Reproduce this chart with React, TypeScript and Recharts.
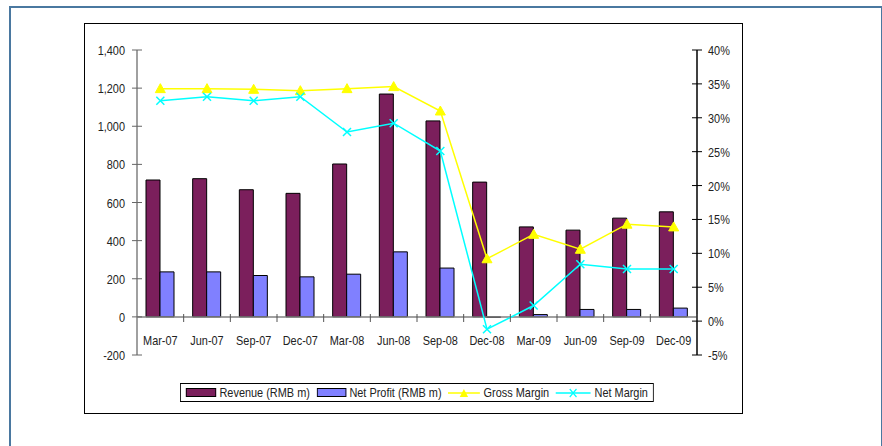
import React from 'react';
import {
    ComposedChart,
    Bar,
    Line,
    XAxis,
    YAxis,
    ReferenceLine,
    Legend,
} from 'recharts';

// Quarterly figures
const quarters = ['Mar-07', 'Jun-07', 'Sep-07', 'Dec-07', 'Mar-08', 'Jun-08', 'Sep-08', 'Dec-08', 'Mar-09', 'Jun-09', 'Sep-09', 'Dec-09'];
const revenue = [718, 725, 667, 648, 802, 1169, 1028, 707, 472, 455, 518, 551];
const netProfit = [236, 236, 217, 210, 224, 341, 256, -3, 12, 39, 39, 46];
const grossMargin = [34.3, 34.3, 34.2, 34.0, 34.3, 34.6, 31.0, 9.2, 12.8, 10.6, 14.3, 13.9];
const netMargin = [32.5, 33.1, 32.5, 33.1, 27.9, 29.2, 25.1, -1.2, 2.3, 8.4, 7.7, 7.7];

const leftTicks = [-200, 0, 200, 400, 600, 800, 1000, 1200, 1400];
const rightTicks = [-5, 0, 5, 10, 15, 20, 25, 30, 35, 40];

const data = quarters.map((label, i) => ({
    label,
    revenue: revenue[i],
    netProfit: netProfit[i],
    grossMargin: grossMargin[i],
    netMargin: netMargin[i],
}));

const FONT = '"Liberation Sans", Arial, sans-serif';
const NARROW = 0.84; // the original uses a condensed Arial look
const REVENUE_COLOR = '#7b1f5c';
const PROFIT_COLOR = '#8080ff';
const GROSS_COLOR = '#ffff00';
const NET_COLOR = '#00ffff';

// distance from the bottom of the plot up to the left axis zero line
const ZERO_GAP = 38;

const NarrowText = ({ x, y, anchor, children }: { x: number; y: number; anchor: 'start' | 'middle' | 'end'; children: React.ReactNode }) => (
    <text
        transform={`translate(${x},${y}) scale(${NARROW},1)`}
        textAnchor={anchor}
        fontSize={13}
        fontFamily={FONT}
        fill="#222"
    >
        {children}
    </text>
);

const CategoryTick = (props: any) => {
    const { x, y, payload, index } = props;
    const half = payload?.offset ?? 0;
    const zeroY = y - ZERO_GAP;
    return (
        <g>
            {half > 0 && index > 0 && (
                <line x1={x - half} x2={x - half} y1={zeroY - 3} y2={zeroY + 5} stroke="#555" strokeWidth={1} />
            )}
            {half > 0 && index === quarters.length - 1 && (
                <line x1={x + half} x2={x + half} y1={zeroY - 3} y2={zeroY + 5} stroke="#555" strokeWidth={1} />
            )}
            <NarrowText x={x} y={y - 10} anchor="middle">{payload.value}</NarrowText>
        </g>
    );
};

const LeftTick = (props: any) => {
    const { x, y, payload } = props;
    return (
        <g>
            <line x1={x - 5} x2={x + 5} y1={y} y2={y} stroke="#666" strokeWidth={1} />
            <NarrowText x={x - 12} y={y + 5} anchor="end">{payload.value.toLocaleString('en-US')}</NarrowText>
        </g>
    );
};

const RightTick = (props: any) => {
    const { x, y, payload } = props;
    return (
        <g>
            <line x1={x - 5} x2={x + 5} y1={y} y2={y} stroke="#000" strokeWidth={1} />
            <NarrowText x={x + 11} y={y + 5} anchor="start">{payload.value}%</NarrowText>
        </g>
    );
};

const TriangleDot = (props: any) => {
    const { cx, cy, index } = props;
    if (cx == null || cy == null) return null;
    return <path key={`tri-${index}`} d={`M${cx},${cy - 5} L${cx + 5},${cy + 4} L${cx - 5},${cy + 4} Z`} fill={GROSS_COLOR} stroke={GROSS_COLOR} />;
};

const CrossDot = (props: any) => {
    const { cx, cy, index } = props;
    if (cx == null || cy == null) return null;
    return (
        <path
            key={`x-${index}`}
            d={`M${cx - 4},${cy - 4} L${cx + 4},${cy + 4} M${cx - 4},${cy + 4} L${cx + 4},${cy - 4}`}
            stroke={NET_COLOR}
            strokeWidth={1.5}
            fill="none"
        />
    );
};

const LegendBox = () => {
    const swatch = (color: string, w: number) => (
        <span style={{ display: 'inline-block', width: w, height: 7, background: color, border: '1px solid #000', marginRight: 4 }} />
    );
    const lineSwatch = (color: string, w: number, marker: React.ReactNode) => (
        <svg width={w} height={10} style={{ marginRight: 4 }}>
            <line x1={0} x2={w} y1={5} y2={5} stroke={color} strokeWidth={1.5} />
            {marker}
        </svg>
    );
    const item = { display: 'flex', alignItems: 'center', marginRight: 8 } as const;
    const mid = (w: number) => w / 2;
    return (
        <div
            style={{
                display: 'flex',
                alignItems: 'center',
                border: '1px solid #000',
                height: 17,
                padding: '0 6px',
                fontFamily: FONT,
                fontSize: 13,
                color: '#222',
                background: '#fff',
                whiteSpace: 'nowrap',
                transform: `scaleX(${NARROW})`,
                transformOrigin: 'left top',
            }}
        >
            <span style={item}>{swatch(REVENUE_COLOR, 34)}Revenue (RMB m)</span>
            <span style={item}>{swatch(PROFIT_COLOR, 33)}Net Profit (RMB m)</span>
            <span style={item}>
                {lineSwatch(GROSS_COLOR, 38, (
                    <path d={`M${mid(38)},1 L${mid(38) + 5},9 L${mid(38) - 5},9 Z`} fill={GROSS_COLOR} />
                ))}
                Gross Margin
            </span>
            <span style={{ ...item, marginRight: 0 }}>
                {lineSwatch(NET_COLOR, 42, (
                    <path
                        d={`M${mid(42) - 4},1 L${mid(42) + 4},9 M${mid(42) - 4},9 L${mid(42) + 4},1`}
                        stroke={NET_COLOR}
                        strokeWidth={1.5}
                    />
                ))}
                Net Margin
            </span>
        </div>
    );
};

export default function App() {
    return (
        <div style={{ position: 'absolute', left: 0, top: 0, width: 882, height: 446, background: '#fff', overflow: 'hidden' }}>
            {/* outer frame */}
            <div style={{ position: 'absolute', left: 9, top: 6, width: 870, height: 460, border: '2px solid #4a78a0' }} />
            {/* chart area frame */}
            <div style={{ position: 'absolute', left: 84, top: 23, width: 657, height: 389, border: '1px solid #000' }} />
            <div style={{ position: 'absolute', left: 0, top: 0 }}>
                <ComposedChart
                    width={882}
                    height={446}
                    data={data}
                    margin={{ top: 50, right: 125, bottom: 61, left: 77 }}
                    barGap={0}
                >
                    <XAxis
                        dataKey="label"
                        xAxisId="x"
                        interval={0}
                        axisLine={false}
                        tickLine={false}
                        tickSize={0}
                        tickMargin={0}
                        height={30}
                        tick={<CategoryTick />}
                    />
                    <YAxis
                        yAxisId="left"
                        orientation="left"
                        width={60}
                        domain={[-200, 1400]}
                        ticks={leftTicks}
                        interval={0}
                        axisLine={{ stroke: '#808080', strokeWidth: 1.5 }}
                        tickLine={false}
                        tickSize={0}
                        tickMargin={0}
                        tick={<LeftTick />}
                    />
                    <YAxis
                        yAxisId="right"
                        orientation="right"
                        width={60}
                        domain={[-5, 40]}
                        ticks={rightTicks}
                        interval={0}
                        axisLine={{ stroke: '#000', strokeWidth: 1.5 }}
                        tickLine={false}
                        tickSize={0}
                        tickMargin={0}
                        tick={<RightTick />}
                    />
                    <ReferenceLine yAxisId="left" xAxisId="x" y={0} stroke="#808080" strokeWidth={1.5} />
                    <Bar
                        dataKey="revenue"
                        name="Revenue (RMB m)"
                        xAxisId="x"
                        yAxisId="left"
                        fill={REVENUE_COLOR}
                        stroke="#000"
                        strokeWidth={1}
                        barSize={14}
                        isAnimationActive={false}
                    />
                    <Bar
                        dataKey="netProfit"
                        name="Net Profit (RMB m)"
                        xAxisId="x"
                        yAxisId="left"
                        fill={PROFIT_COLOR}
                        stroke="#000"
                        strokeWidth={1}
                        barSize={14}
                        isAnimationActive={false}
                    />
                    <Line
                        type="linear"
                        dataKey="grossMargin"
                        name="Gross Margin"
                        xAxisId="x"
                        yAxisId="right"
                        stroke={GROSS_COLOR}
                        strokeWidth={1.5}
                        dot={<TriangleDot />}
                        activeDot={false}
                        isAnimationActive={false}
                    />
                    <Line
                        type="linear"
                        dataKey="netMargin"
                        name="Net Margin"
                        xAxisId="x"
                        yAxisId="right"
                        stroke={NET_COLOR}
                        strokeWidth={1.5}
                        dot={<CrossDot />}
                        activeDot={false}
                        isAnimationActive={false}
                    />
                    <Legend
                        verticalAlign="middle"
                        align="center"
                        layout="horizontal"
                        content={<LegendBox />}
                        wrapperStyle={{ left: 180, top: 383, width: 'auto' }}
                    />
                </ComposedChart>
            </div>
        </div>
    );
}
